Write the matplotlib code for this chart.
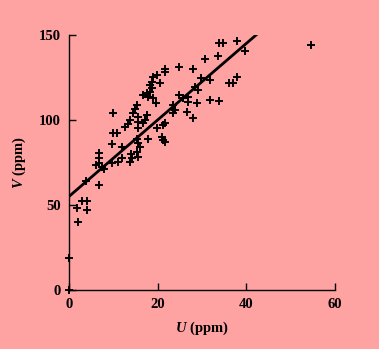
import matplotlib
matplotlib.use("Agg")
import matplotlib.pyplot as plt
import numpy as np

plt.rcParams['font.family'] = 'Liberation Serif'
plt.rcParams['font.weight'] = 'bold'
plt.rcParams['axes.labelweight'] = 'bold'
plt.rcParams['mathtext.fontset'] = 'custom'
plt.rcParams['mathtext.it'] = 'Liberation Serif:italic:bold'
plt.rcParams['mathtext.rm'] = 'Liberation Serif:bold'

# U (ppm), V (ppm)
u = [0, 0, 1.7, 2.1, 2.9, 4.0, 4.0, 3.8, 6.8, 6.1, 6.8, 6.8, 6.8, 7.4, 8.0,
     9.6, 9.6, 10.0, 10.0, 10.9, 11.1, 11.9, 12.6, 13.2, 13.8, 13.8, 14.2,
     14.5, 14.9, 15.3, 15.3, 15.6, 15.6, 15.3, 15.6, 16.0, 15.6, 15.6, 16.8,
     17.2, 17.5, 17.9, 16.8, 17.5, 17.9, 18.3, 18.7, 18.3, 18.7, 19.0, 19.8,
     20.5, 19.0, 19.6, 19.8, 21.3, 20.9, 21.3, 21.7, 21.7, 21.7, 21.7, 23.5,
     23.9, 23.5, 24.7, 25.8, 26.9, 26.9, 24.9, 27.9, 26.7, 27.9, 28.8, 28.4,
     29.0, 29.8, 31.8, 30.7, 31.7, 33.9, 33.7, 33.9, 34.8, 36.0, 36.9, 37.8,
     37.8, 39.7, 54.6, 12.0, 14.0]
v = [0, 19, 48, 40, 52.5, 52.5, 47, 64, 62, 73.5, 74.5, 77.5, 80.5, 72.5, 71,
     74.5, 86, 104, 92.5, 92.5, 75.5, 77.5, 96, 97.6, 100, 75.5, 77.5,
     104, 106.3, 108.8, 81.4, 78, 95, 89, 86.3, 84, 99, 102, 98.4,
     100, 103, 89, 114.7, 115.7, 113.7, 116.7, 118.6, 120.6, 122.5, 125.5, 126.5,
     121.6, 112.8, 109.8, 95, 97, 89.8, 88.2, 87.2, 98, 130, 128, 108.8,
     105.9, 103.9, 114.7, 112.7, 113.3, 110.8, 131.4, 129.8, 104.5, 101, 109.8, 119.6,
     117.6, 124.5, 123.5, 135.7, 111.8, 111.2, 137.6, 145, 145, 122, 122, 125.5,
     146.7, 140.6, 144, 84, 80]

# regression line V = a + b U
a, b = 55.0, 2.25
u_fit = np.array([0, 42.4])

bg = '#ffa2a2'
fig = plt.figure(figsize=(3.79, 3.49), dpi=100, facecolor=bg)
ax = fig.add_axes([0.182, 0.169, 0.702, 0.731], facecolor=bg)

ax.plot(u, v, '+', color='black', markersize=6, markeredgewidth=1.4, clip_on=False)
ax.plot(u_fit, a + b * u_fit, color='black', linewidth=2)

ax.set_xlim(0, 60)
ax.set_ylim(0, 150)
ax.set_xticks([0, 20, 40, 60])
ax.set_yticks([0, 50, 100, 150])
for s in ['top', 'right']:
    ax.spines[s].set_visible(False)
for s in ['left', 'bottom']:
    ax.spines[s].set_linewidth(1.0)
ax.tick_params(direction='in', length=5, width=1, labelsize=10.5, pad=6)

ax.set_xlabel(r'$U$ (ppm)', fontsize=10.5, fontweight='bold', labelpad=6)
ax.set_ylabel(r'$V$ (ppm)', fontsize=10.5, fontweight='bold', labelpad=8)

fig.savefig('out.png', dpi=100, facecolor=bg)
